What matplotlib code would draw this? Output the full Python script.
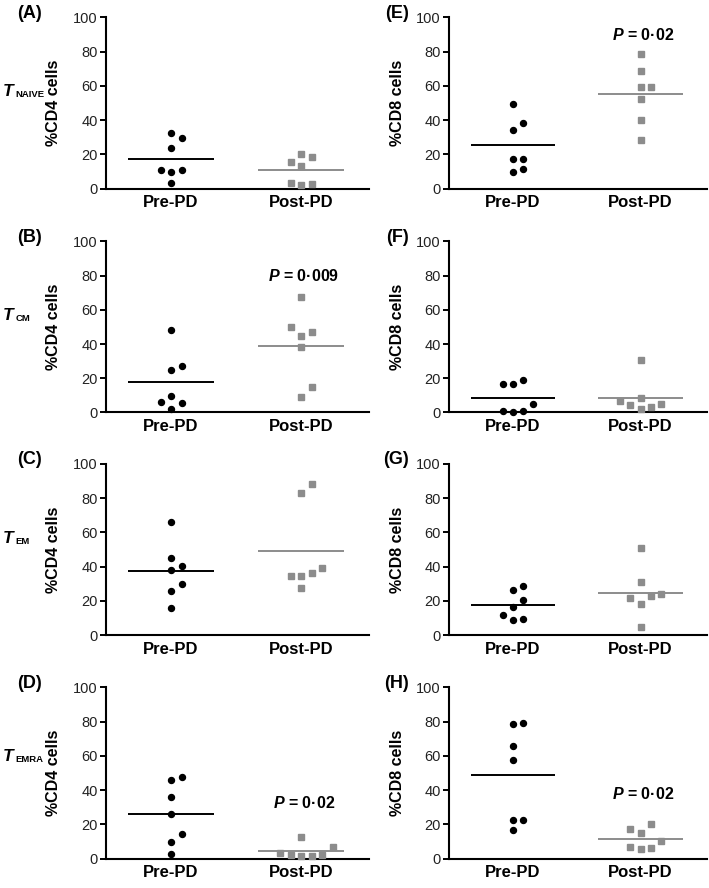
import numpy as np
import matplotlib.pyplot as plt

plt.rcParams['font.family'] = 'Liberation Sans'
plt.rcParams['mathtext.fontset'] = 'custom'
plt.rcParams['mathtext.rm'] = 'Liberation Sans:bold'
plt.rcParams['mathtext.it'] = 'Liberation Sans:italic:bold'
plt.rcParams['mathtext.bf'] = 'Liberation Sans:bold'

# groups on the x axis
groups = ['Pre-PD', 'Post-PD']

# % of CD4 cells (left column)
cd4_naive_pre = [32.3, 29.3, 23.6, 9.8, 10.8, 10.8, 3.0]
cd4_naive_post = [20.3, 18.7, 15.4, 13.2, 1.8, 2.8, 3.5]
cd4_cm_pre = [48.5, 24.7, 27.2, 9.7, 5.8, 6.2, 1.9]
cd4_cm_post = [67.6, 45.0, 47.0, 49.9, 38.1, 9.3, 15.1]
cd4_em_pre = [65.9, 45.2, 40.2, 37.9, 26.0, 30.0, 15.8]
cd4_em_post = [83.2, 88.2, 34.5, 36.3, 34.5, 39.3, 27.4]
cd4_emra_pre = [45.7, 47.6, 35.8, 26.0, 9.8, 14.2, 2.4]
cd4_emra_post = [12.4, 1.4, 1.4, 2.0, 2.0, 3.3, 6.9]

# % of CD8 cells (right column)
cd8_naive_pre = [49.4, 34.4, 38.5, 17.5, 17.5, 9.4, 11.3]
cd8_naive_post = [78.7, 69.0, 59.6, 59.6, 52.5, 39.8, 28.3]
cd8_cm_pre = [16.7, 18.8, 16.7, 0.5, 0.8, 0.8, 5.0]
cd8_cm_post = [30.6, 8.7, 2.3, 3.3, 4.6, 5.2, 6.5]
cd8_em_pre = [26.5, 28.4, 16.3, 20.4, 8.9, 9.3, 11.7]
cd8_em_post = [51.0, 30.9, 18.3, 22.6, 21.4, 24.1, 4.7]
cd8_emra_pre = [78.9, 79.5, 65.5, 57.6, 22.7, 22.3, 16.4]
cd8_emra_post = [15.0, 20.3, 17.4, 5.3, 5.9, 6.7, 10.5]

subsets = ['NAIVE', 'CM', 'EM', 'EMRA']
letters_cd4 = ['(A)', '(B)', '(C)', '(D)']
letters_cd8 = ['(E)', '(F)', '(G)', '(H)']

# p-value annotations: (column, row) -> (text, y)
p_notes = {(0, 1): ('0·009', 80), (0, 3): ('0·02', 32.5),
           (1, 0): ('0·02', 90), (1, 3): ('0·02', 37.5)}

cd4_sets = [(cd4_naive_pre, cd4_naive_post), (cd4_cm_pre, cd4_cm_post),
            (cd4_em_pre, cd4_em_post), (cd4_emra_pre, cd4_emra_post)]
cd8_sets = [(cd8_naive_pre, cd8_naive_post), (cd8_cm_pre, cd8_cm_post),
            (cd8_em_pre, cd8_em_post), (cd8_emra_pre, cd8_emra_post)]

gray = '#8c8c8c'


def swarm(values, step, thr=6):
    # prism-like column scatter: take the first free slot 0, +1, -1, +2, ...
    slots = [0, 1, -1, 2, -2, 3, -3, 4, -4]
    placed = []
    offs = []
    for v in values:
        for s in slots:
            if all(not (ps == s and abs(pv - v) < thr) for pv, ps in placed):
                break
        placed.append((v, s))
        offs.append(s * step)
    return np.array(offs)


fig = plt.figure(figsize=(7.09, 8.88), dpi=100)

col_x = [106 / 709, 449 / 709]
col_w = [263 / 709, 258 / 709]
row_y = [0.7877, 0.5355, 0.2849, 0.0332]
row_h = 0.1926
t_y = [0.54, 0.543, 0.54, 0.57]

for col, (sets, letters, ylab) in enumerate([(cd4_sets, letters_cd4, '%CD4 cells'),
                                             (cd8_sets, letters_cd8, '%CD8 cells')]):
    for row, (pre, post) in enumerate(sets):
        ax = fig.add_axes([col_x[col], row_y[row], col_w[col], row_h])

        ax.plot(1 + swarm(pre, 0.08), pre, 'o', color='black', ms=4.3,
                clip_on=False, zorder=3)
        ax.plot(2 + swarm(post, 0.08), post, 's', color=gray, ms=4.3,
                clip_on=False, zorder=3)
        ax.hlines(np.mean(pre), 1 - 0.33, 1 + 0.33, color='black', lw=1.4)
        ax.hlines(np.mean(post), 2 - 0.33, 2 + 0.33, color=gray, lw=1.4)

        ax.set_xlim(0.5, 2.52)
        ax.set_ylim(0, 100)
        ax.set_yticks([0, 20, 40, 60, 80, 100])
        ax.set_yticklabels(['0', '20', '40', '60', '80', '100'], fontsize=10.5,
                           color='#222222')
        ax.set_xticks([1, 2])
        ax.set_xticklabels(groups, fontsize=12, fontweight='bold')
        ax.tick_params(axis='x', length=0, pad=5)
        ax.tick_params(axis='y', length=4.5, width=1.4, pad=1.5)

        for side in ['top', 'right']:
            ax.spines[side].set_visible(False)
        for side in ['left', 'bottom']:
            ax.spines[side].set_linewidth(1.5)

        ax.set_ylabel(ylab, fontsize=11.5, fontweight='bold')
        ax.yaxis.set_label_coords(-0.172, 0.5)

        if col == 0:
            ax.text(-0.338, 1.025, letters[row], transform=ax.transAxes,
                    fontsize=13, fontweight='bold', ha='left', va='center')
            # subset name: big bold italic T with a small bold subscript
            ax.text(-0.392, t_y[row], 'T', transform=ax.transAxes,
                    fontsize=12.5, fontweight='bold', fontstyle='italic',
                    ha='left', va='baseline')
            ax.annotate(subsets[row], xy=(-0.392, t_y[row]),
                        xycoords='axes fraction', xytext=(9.3, -0.8),
                        textcoords='offset points', fontsize=6.8,
                        fontweight='bold', ha='left', va='baseline')
        else:
            ax.text(-0.155, 1.025, letters[row], transform=ax.transAxes,
                    fontsize=13, fontweight='bold', ha='right', va='center')

        if (col, row) in p_notes:
            txt, py = p_notes[(col, row)]
            ax.text(2.02, py, r'$P$ = ' + txt, fontsize=11.5, fontweight='bold',
                    ha='center', va='center')

fig.savefig('out.png', dpi=100)
